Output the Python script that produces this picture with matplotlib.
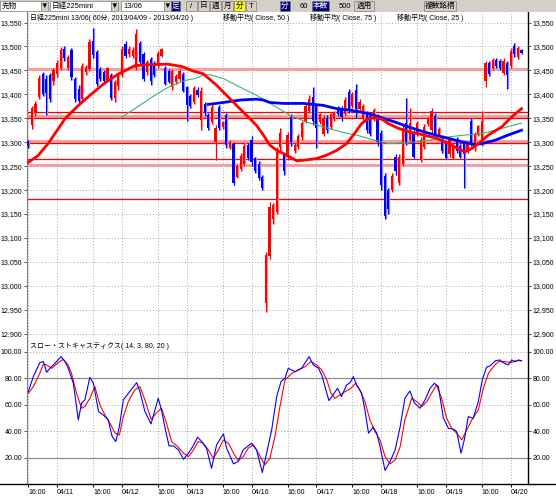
import numpy as np
import matplotlib
matplotlib.use("Agg")
import matplotlib.pyplot as plt
from matplotlib.patches import Rectangle

plt.rcParams["font.family"] = ["Liberation Sans", "Noto Sans CJK JP"]

# 日経225mini 13/06 60分足 (04/10 16:00 - 04/20 02:00)
opens = [
    13302, 13335, 13360, 13395, 13442, 13432, 13440, 13428, 13442, 13455,
    13495, 13455, 13492, 13432, 13412, 13390, 13446, 13452, 13512, 13488,
    13452, 13446, 13430, 13440, 13392, 13418, 13440, 13505, 13485, 13480,
    13456, 13508, 13484, 13446, 13474, 13465, 13460, 13481, 13456, 13449,
    13415, 13425, 13432, 13442, 13415, 13397, 13383, 13410, 13346, 13380,
    13356, 13342, 13300, 13374, 13332, 13356, 13288, 13297, 13228, 13245,
    13255, 13294, 13305, 13266, 13255, 13228, 12965, 13062, 13140, 13155,
    13290, 13273, 13270, 13353, 13282, 13290, 13310, 13345, 13365, 13395,
    13375, 13342, 13318, 13350, 13332, 13348, 13372, 13372, 13358, 13405,
    13376, 13410, 13370, 13350, 13362, 13355, 13350, 13352, 13320, 13230,
    13200, 13200, 13270, 13215, 13255, 13340, 13305, 13320, 13318, 13262,
    13290, 13338, 13325, 13355, 13316, 13306, 13298, 13275, 13268, 13306,
    13292, 13298, 13282, 13345, 13287, 13315, 13300, 13428, 13465, 13455,
    13472, 13470, 13445, 13465, 13460, 13500, 13478, 13492,
]
highs = [
    13305, 13376, 13386, 13440, 13446, 13440, 13445, 13455, 13472, 13498,
    13500, 13482, 13496, 13436, 13420, 13466, 13462, 13516, 13538, 13492,
    13458, 13450, 13458, 13445, 13430, 13442, 13500, 13512, 13500, 13498,
    13536, 13512, 13488, 13472, 13478, 13470, 13490, 13496, 13460, 13452,
    13452, 13442, 13452, 13446, 13418, 13400, 13418, 13416, 13415, 13385,
    13360, 13380, 13335, 13378, 13345, 13360, 13305, 13300, 13255, 13278,
    13300, 13298, 13312, 13270, 13260, 13232, 13070, 13175, 13172, 13290,
    13330, 13278, 13322, 13358, 13298, 13318, 13345, 13380, 13398, 13415,
    13380, 13362, 13356, 13356, 13362, 13366, 13376, 13376, 13394, 13412,
    13405, 13422, 13391, 13380, 13366, 13360, 13372, 13358, 13325, 13235,
    13205, 13235, 13275, 13275, 13335, 13392, 13372, 13325, 13345, 13310,
    13338, 13352, 13372, 13360, 13332, 13310, 13302, 13310, 13296, 13310,
    13296, 13302, 13302, 13350, 13322, 13336, 13365, 13470, 13470, 13476,
    13476, 13474, 13476, 13470, 13496, 13508, 13502, 13494,
]
lows = [
    13288, 13328, 13355, 13390, 13396, 13356, 13385, 13420, 13436, 13450,
    13470, 13450, 13430, 13383, 13380, 13385, 13440, 13448, 13476, 13418,
    13428, 13422, 13425, 13388, 13385, 13410, 13436, 13475, 13478, 13475,
    13450, 13462, 13428, 13440, 13420, 13436, 13455, 13478, 13420, 13424,
    13410, 13422, 13428, 13404, 13345, 13372, 13380, 13395, 13325, 13355,
    13325, 13338, 13262, 13325, 13328, 13287, 13285, 13210, 13225, 13240,
    13250, 13262, 13250, 13235, 13222, 13200, 12945, 13055, 13130, 13150,
    13280, 13232, 13262, 13292, 13278, 13285, 13305, 13340, 13360, 13335,
    13287, 13338, 13312, 13320, 13328, 13344, 13354, 13345, 13354, 13360,
    13372, 13350, 13366, 13345, 13320, 13312, 13345, 13292, 13200, 13140,
    13150, 13195, 13232, 13210, 13250, 13295, 13300, 13265, 13314, 13258,
    13285, 13334, 13320, 13312, 13312, 13278, 13265, 13270, 13264, 13278,
    13266, 13205, 13278, 13292, 13282, 13312, 13292, 13415, 13438, 13450,
    13455, 13450, 13440, 13412, 13455, 13478, 13474, 13484,
]
closes = [
    13292, 13372, 13380, 13435, 13400, 13402, 13390, 13450, 13465, 13492,
    13476, 13478, 13436, 13390, 13386, 13460, 13458, 13510, 13482, 13422,
    13432, 13428, 13455, 13392, 13425, 13438, 13495, 13480, 13495, 13492,
    13525, 13467, 13432, 13468, 13428, 13440, 13487, 13494, 13422, 13426,
    13449, 13439, 13449, 13406, 13378, 13376, 13414, 13398, 13408, 13362,
    13330, 13374, 13330, 13330, 13342, 13295, 13300, 13215, 13250, 13272,
    13292, 13268, 13258, 13240, 13226, 13205, 13065, 13165, 13168, 13280,
    13320, 13240, 13315, 13300, 13294, 13312, 13340, 13375, 13390, 13345,
    13330, 13358, 13350, 13325, 13358, 13362, 13358, 13352, 13388, 13366,
    13400, 13370, 13384, 13376, 13325, 13318, 13368, 13300, 13210, 13145,
    13160, 13230, 13240, 13270, 13330, 13300, 13340, 13270, 13340, 13305,
    13332, 13348, 13365, 13318, 13328, 13282, 13268, 13305, 13292, 13282,
    13270, 13275, 13298, 13300, 13318, 13334, 13345, 13466, 13442, 13472,
    13460, 13455, 13470, 13440, 13490, 13485, 13496, 13486,
]

# 移動平均 (Close, 25 / 50 / 75) at bar positions
ma25_pos = [0, 2.7, 5.5, 8.3, 10.2, 13.8, 17.6, 21.3, 24.9, 29.6, 33.8, 38.8,
            42.7, 45.7, 48.6, 52.3, 56.0, 59.7, 63.4, 65.3, 67.1, 69.0, 71.8,
            74.6, 77.3, 80.1, 82.9, 85.7, 88.4, 90.3, 92.6, 94.4, 96.3, 98.2,
            100.0, 102.8, 105.6, 109.3, 113.0, 115.8, 118.5, 121.3, 123.2,
            125.0, 127.8, 131.5, 134.3, 137.0]
ma25 = [13258, 13272, 13297, 13328, 13349, 13376, 13401, 13424, 13442, 13460,
        13462, 13463, 13458, 13449, 13443, 13419, 13391, 13363, 13335, 13315,
        13294, 13283, 13273, 13261, 13263, 13266, 13273, 13283, 13297, 13315,
        13339, 13349, 13351, 13348, 13339, 13329, 13322, 13316, 13309, 13301,
        13290, 13280, 13287, 13297, 13315, 13332, 13353, 13370]
ma50_pos = [25.5, 29.6, 34.3, 38.9, 43.5, 46.3, 48.6, 50.5, 54.2, 58.8, 63.4,
            68.1, 72.7, 77.3, 81.9, 86.6, 92.1, 96.3, 100.0, 105.6, 111.2,
            116.7, 121.3, 126.0, 130.6, 137.0]
ma50 = [13350, 13370, 13394, 13415, 13429, 13433, 13440, 13441, 13433, 13415,
        13398, 13377, 13356, 13342, 13332, 13322, 13313, 13304, 13297, 13299,
        13304, 13311, 13315, 13318, 13327, 13340]
ma75_pos = [50.0, 54.2, 58.8, 63.4, 65.3, 67.1, 70.8, 76.4, 81.9, 85.7, 89.4,
            94.4, 98.2, 101.9, 105.6, 109.3, 113.0, 116.7, 120.4, 124.1, 126.0,
            129.6, 133.3, 137.0]
ma75 = [13379, 13383, 13388, 13390, 13388, 13383, 13381, 13381, 13377, 13370,
        13367, 13360, 13351, 13342, 13332, 13323, 13315, 13308, 13301, 13295,
        13297, 13304, 13315, 13325]

# horizontal reference lines
red_levels = [13364, 13351, 13298, 13264, 13181]
pink_levels = [13453, 13355, 13302, 13252]

# スロー・ストキャスティクス (14, 3, 80, 20)
k_pos = [0, 1.4, 3.2, 4.2, 5.1, 6.0, 7.4, 9.1, 10.2, 11.1,
         12.5, 13.9, 14.8, 15.7, 17.1, 18.1, 19.5, 20.8, 22.2, 23.3,
         24.3, 25.3, 26.4, 27.8, 30.1, 31.0, 32.4, 34.1, 35.2, 36.1,
         37.0, 38.0, 39.1, 40.3, 41.7, 43.1, 44.5, 45.8, 47.0, 48.2,
         49.5, 50.9, 52.3, 54.2, 55.1, 57.0, 58.3, 59.7, 62.0, 63.4,
         65.0, 66.2, 67.6, 69.0, 70.2, 71.3, 72.2, 74.1, 75.9, 78.0,
         79.2, 80.6, 81.5, 82.4, 83.5, 84.3, 85.9, 87.0, 88.4, 89.4,
         90.3, 91.2, 92.6, 93.5, 94.5, 95.8, 96.8, 97.7, 99.1, 100.5,
         101.9, 103.3, 104.6, 106.0, 107.2, 108.8, 110.2, 111.6, 112.8, 113.9,
         115.3, 116.7, 118.1, 119.0, 120.2, 121.1, 122.2, 123.6, 125.0, 126.1,
         127.3, 128.2, 129.8, 131.0, 131.9, 133.3, 134.3, 135.2, 136.1, 137.0]
k_val = [69.8, 81.1, 91.7, 92.5, 84.4, 87.4, 91.2, 96.2, 92.5, 87.4,
         76.1, 48.4, 61.0, 63.5, 80.6, 76.1, 54.7, 52.2, 48.4, 35.8,
         32.1, 43.4, 63.5, 68.5, 76.6, 69.8, 54.7, 45.4, 56.0, 64.8,
         56.0, 42.1, 28.8, 28.8, 25.8, 18.7, 23.3, 28.8, 35.3, 32.1,
         27.0, 11.9, 29.6, 37.9, 27.0, 15.2, 17.0, 25.8, 30.8, 25.8,
         8.7, 23.3, 40.9, 66.0, 77.4, 79.9, 87.4, 84.9, 87.4, 96.2,
         89.9, 87.4, 82.4, 73.6, 63.0, 66.0, 72.3, 66.0, 74.8, 76.6,
         81.1, 74.8, 68.5, 56.0, 38.4, 42.9, 38.4, 28.3, 10.2, 17.0,
         25.8, 43.4, 64.8, 70.3, 61.5, 57.2, 63.5, 72.3, 76.1, 73.6,
         49.7, 42.1, 41.4, 39.6, 23.3, 33.3, 50.9, 49.7, 62.3, 78.6,
         88.2, 89.2, 93.2, 93.7, 91.7, 89.9, 93.7, 92.5, 93.7, 93.2]
d_pos = [0.0, 1.4, 3.2, 4.2, 5.1, 6.5, 8.3, 9.7, 11.1, 12.0,
         13.4, 14.8, 15.7, 17.1, 18.5, 19.9, 21.3, 22.7, 24.1, 25.3,
         26.4, 27.8, 29.6, 31.0, 32.4, 34.1, 35.7, 37.0, 38.4, 39.8,
         41.5, 43.1, 44.5, 45.8, 47.2, 48.6, 50.0, 51.4, 52.8, 54.2,
         55.6, 57.0, 58.3, 59.7, 61.1, 62.5, 63.9, 65.7, 67.1, 68.5,
         69.9, 71.3, 73.2, 75.0, 76.9, 78.5, 80.1, 81.5, 82.9, 84.1,
         85.2, 86.6, 88.0, 89.6, 90.9, 92.1, 93.5, 94.9, 96.3, 97.7,
         99.1, 100.5, 101.9, 103.3, 104.6, 106.5, 107.9, 109.3, 110.7, 112.0,
         113.4, 114.8, 116.2, 117.6, 119.0, 120.4, 121.8, 123.2, 125.0, 126.4,
         127.8, 129.2, 130.6, 132.4, 134.1, 135.7, 137.0]
d_val = [68.5, 73.6, 83.6, 90.7, 89.9, 87.4, 91.7, 94.2, 89.9, 83.6,
         68.5, 57.2, 58.5, 64.8, 73.6, 59.7, 52.2, 45.9, 38.4, 37.1,
         50.9, 62.3, 71.1, 73.6, 63.5, 48.9, 54.0, 57.2, 45.9, 32.1,
         28.3, 23.3, 20.7, 25.3, 32.1, 30.8, 25.8, 19.5, 25.8, 33.3,
         30.8, 23.3, 17.7, 20.7, 27.0, 29.6, 23.3, 14.5, 19.5, 35.8,
         58.5, 78.6, 83.6, 86.2, 88.7, 92.5, 89.9, 86.2, 78.6, 68.5,
         64.8, 67.3, 69.8, 72.3, 76.1, 71.1, 62.3, 48.4, 39.6, 33.3,
         20.7, 15.2, 18.2, 28.3, 48.4, 64.8, 62.3, 58.5, 62.3, 68.5,
         74.8, 64.8, 49.7, 42.1, 38.4, 33.3, 40.9, 48.4, 56.0, 72.3,
         83.6, 88.7, 92.5, 92.5, 91.7, 93.2, 93.0]

# x axis (bar index of each gridline)
tick_pos = [0, 8, 18, 26, 36, 44, 54, 62, 72, 80, 90, 98, 108, 116, 126, 134]
tick_labels = ["16:00", "04/11", "16:00", "04/12", "16:00", "04/13", "16:00",
               "04/16", "16:00", "04/17", "16:00", "04/18", "16:00", "04/19",
               "16:00", "04/20"]
price_ticks = list(range(12900, 13551, 50))
stoch_ticks = [20, 40, 60, 80, 100]

W, H = 556, 497
fig = plt.figure(figsize=(W / 100, H / 100), dpi=100)
fig.patch.set_facecolor("white")


def frame(x0, y0, x1, y1):
    return [x0 / W, 1 - y1 / H, (x1 - x0) / W, (y1 - y0) / H]


ax = fig.add_axes(frame(27, 12, 528, 338))
ax2 = fig.add_axes(frame(27, 338, 528, 484))
XL = (-0.36, 138.8)
GRID = "#a8a8a8"
DOT = (0, (1, 2))

# ---- price panel ----
ax.set_xlim(*XL)
ax.set_ylim(12891, 13572)
for p in price_ticks:
    ax.axhline(p, color=GRID, lw=0.7, ls=DOT, zorder=0)
for t in tick_pos:
    ax.axvline(t, color=GRID, lw=0.7, ls=DOT, zorder=0)
for p in pink_levels:
    ax.axhline(p, color="#f5a0a0", lw=2.2, zorder=1)
for p in red_levels:
    ax.axhline(p, color="#ff0000", lw=0.9, zorder=1)

o, h, l, c = map(np.array, (opens, highs, lows, closes))
idx = np.arange(len(o))
up = c >= o
col = np.where(up, "#ff0000", "#0000ff")
light = np.where(up, "#ff9090", "#9090ff")
ax.vlines(idx + 0.25, l, h, colors=light, lw=1.0, zorder=2)
ax.vlines(idx, l, h, colors=col, lw=0.8, zorder=3)
ax.bar(idx, np.maximum(np.abs(c - o), 1.5), bottom=np.minimum(o, c),
       width=0.6, color=col, linewidth=0, zorder=3)

ax.plot(ma50_pos, ma50, color="#3cb371", lw=0.8, zorder=4)
ax.plot(ma75_pos, ma75, color="#0000ff", lw=2.0, zorder=5)
ax.plot(ma25_pos, ma25, color="#ff0000", lw=2.0, zorder=6)

ax.set_yticks(price_ticks)
ax.set_yticklabels([f"{p:,}" for p in price_ticks])
ax.set_xticks([])

# ---- stochastics panel ----
ax2.set_xlim(*XL)
ax2.set_ylim(0, 110.3)
for t in tick_pos:
    ax2.axvline(t, color=GRID, lw=0.7, ls=DOT, zorder=0)
for v in (100, 60, 40):
    ax2.axhline(v, color=GRID, lw=0.7, ls=DOT, zorder=0)
for v in (80, 20):
    ax2.axhline(v, color="#8c8c8c", lw=0.9, zorder=1)
ax2.plot(d_pos, d_val, color="#ff0000", lw=0.8, zorder=3)
ax2.plot(k_pos, k_val, color="#0000ff", lw=0.8, zorder=4)
ax2.set_yticks(stoch_ticks)
ax2.set_yticklabels([f"{v:.2f}" for v in stoch_ticks])
ax2.set_xticks(tick_pos)
ax2.set_xticklabels(tick_labels, ha="left")

for a in (ax, ax2):
    a.set_facecolor("none")
    for s in ("top", "bottom"):
        a.spines[s].set_visible(False)
    a.spines["left"].set_color("#808080")
    a.spines["right"].set_color("black")
    a.spines["right"].set_linewidth(1.0)
    a.tick_params(axis="y", left=True, right=True, labelleft=True,
                  labelright=True, length=2.5, width=0.7, pad=1,
                  labelsize=5, color="#555555")
ax2.tick_params(axis="x", length=2.5, width=0.7, pad=0.8, labelsize=5,
                color="black")

# ---- overlay: toolbar, titles, bottom rule ----
ov = fig.add_axes([0, 0, 1, 1], zorder=10)
ov.set_xlim(0, W)
ov.set_ylim(H, 0)
ov.axis("off")
ov.patch.set_alpha(0)
ov.plot([0, W], [484, 484], color="black", lw=1.0)

ov.add_patch(Rectangle((0, 0), W, 11.5, facecolor="#d4d0c8", edgecolor="none"))
TB = 5.5


def box(x0, x1, fc, text="", tc="black", tx=None, ha="center"):
    ov.add_patch(Rectangle((x0, 0.5), x1 - x0, 10, facecolor=fc,
                           edgecolor="#808080", lw=0.5))
    if text:
        xt = (x0 + x1) / 2 if tx is None else tx
        ov.text(xt, 6, text, color=tc, fontsize=TB, ha=ha, va="center")


box(0, 41, "white", "先物", tx=2, ha="left")
box(41, 48, "#d4d0c8", "▼")
box(50, 111, "white", "日経225mini", tx=52, ha="left")
box(111, 118, "#d4d0c8", "▼")
box(121, 164, "white", "13/06", tx=123, ha="left")
box(164, 171, "#d4d0c8", "▼")
box(171, 180, "#000080", "足", tc="white")
box(186, 197, "#d4d0c8", "/")
box(198, 209, "#d4d0c8", "日")
box(210, 221, "#d4d0c8", "週")
box(222, 233, "#d4d0c8", "月")
box(234, 245, "#ffff00", "分")
box(246, 256, "#d4d0c8", "T")
box(280, 290, "#000080", "分", tc="white")
ov.text(308, 6, "60", fontsize=TB, ha="right", va="center")
box(312, 329, "#000080", "本数", tc="white")
ov.text(351, 6, "500", fontsize=TB, ha="right", va="center")
box(354, 374, "#d4d0c8", "適用")
box(424, 456, "#d4d0c8", "複数銘柄")

FS = 5
ov.text(30, 17.5, "日経225mini 13/06( 60分, 2013/04/09 - 2013/04/20 )",
        fontsize=FS, va="center")
ov.text(223, 17.5, "移動平均( Close, 50 )", fontsize=FS, va="center")
ov.text(310, 17.5, "移動平均( Close, 75 )", fontsize=FS, va="center")
ov.text(397, 17.5, "移動平均( Close, 25 )", fontsize=FS, va="center")
ov.text(30, 346, "スロー・ストキャスティクス( 14, 3, 80, 20 )", fontsize=FS,
        va="center")

fig.savefig("out.png", dpi=100)
